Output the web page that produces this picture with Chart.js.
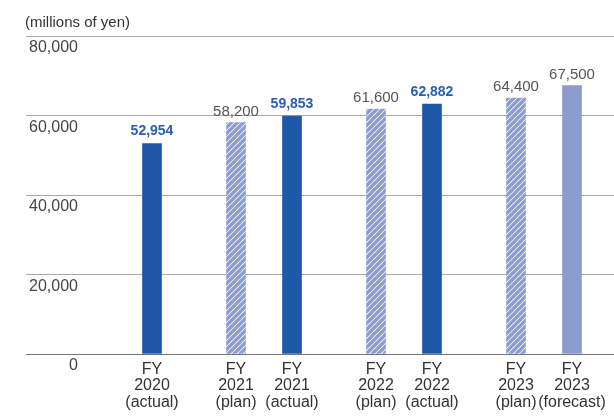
<!DOCTYPE html>
<html>
<head>
<meta charset="utf-8">
<script src="https://cdn.jsdelivr.net/npm/chart.js@4"></script>
<style>
  html, body { margin: 0; padding: 0; background: #fff; }
  #wrap { position: relative; width: 614px; height: 417px; }
</style>
</head>
<body>
<div id="wrap"><canvas id="ch-sales"></canvas></div>
<script>
// data
const categories = [
  ['FY', '2020', '(actual)'],
  ['FY', '2021', '(plan)'],
  ['FY', '2021', '(actual)'],
  ['FY', '2022', '(plan)'],
  ['FY', '2022', '(actual)'],
  ['FY', '2023', '(plan)'],
  ['FY', '2023', '(forecast)']
];
const values = [52954, 58200, 59853, 61600, 62882, 64400, 67500];
const kinds = ['actual', 'plan', 'actual', 'plan', 'actual', 'plan', 'forecast'];
const yTicks = [0, 20000, 40000, 60000, 80000];
const unitLabel = '(millions of yen)';

const FONT = "'Liberation Sans', Arial, sans-serif";
const fmt = v => v.toLocaleString('en-US');

// hatch pattern for the plan bars
function hatch() {
  const n = 6;
  const c = document.createElement('canvas');
  c.width = n; c.height = n;
  const g = c.getContext('2d');
  g.fillStyle = '#ffffff';
  g.fillRect(0, 0, n, n);
  g.strokeStyle = '#8c9dd5';
  g.lineWidth = 3.4;
  g.beginPath();
  g.moveTo(-n / 2, n / 2); g.lineTo(n / 2, -n / 2);
  g.moveTo(-n / 2, n * 1.5); g.lineTo(n * 1.5, -n / 2);
  g.moveTo(n / 2, n * 1.5); g.lineTo(n * 1.5, n / 2);
  g.stroke();
  return g.createPattern(c, 'repeat');
}
const fills = { actual: '#1f58a8', plan: hatch(), forecast: '#8c9bcd' };

// spread the bars over slots: wide gap between years, narrow inside a year
const labels = [], data = [], colors = [], src = [];
function blank(n) { for (let i = 0; i < n; i++) { labels.push(''); data.push(null); colors.push('transparent'); src.push(-1); } }
blank(4);
categories.forEach((cat, i) => {
  if (i > 0) blank(cat[1] === categories[i - 1][1] ? 1 : 2);
  labels.push(cat); data.push(values[i]); colors.push(fills[kinds[i]]); src.push(i);
});
blank(1);

const decorations = {
  id: 'decorations',
  afterDatasetsDraw(chart) {
    const ctx = chart.ctx;
    const y = chart.scales.y;
    ctx.save();
    // unit label
    ctx.font = '15px ' + FONT;
    ctx.fillStyle = '#333';
    ctx.textAlign = 'left';
    ctx.textBaseline = 'middle';
    ctx.fillText(unitLabel, 25, 23);
    // y tick labels sit under their grid line
    ctx.font = '16px ' + FONT;
    ctx.fillStyle = '#444';
    ctx.textAlign = 'right';
    yTicks.forEach(t => ctx.fillText(fmt(t), 78, y.getPixelForValue(t) + 12));
    // value labels above bars
    const meta = chart.getDatasetMeta(0);
    meta.data.forEach((bar, j) => {
      const i = src[j];
      if (i < 0) return;
      const strong = kinds[i] === 'actual';
      ctx.font = (strong ? 'bold 14px ' : '15px ') + FONT;
      ctx.fillStyle = strong ? '#2860b4' : '#555';
      ctx.textAlign = 'center';
      ctx.fillText(fmt(values[i]), bar.x, bar.y - (strong ? 12 : 11));
    });
    ctx.restore();
  }
};

new Chart(document.getElementById('ch-sales'), {
  type: 'bar',
  data: {
    labels,
    datasets: [{ data, backgroundColor: colors, barThickness: 19, borderWidth: 0 }]
  },
  options: {
    responsive: true,
    maintainAspectRatio: false,
    animation: false,
    layout: { padding: { top: 36, left: 26, right: 0, bottom: 0 } },
    plugins: { legend: { display: false }, tooltip: { enabled: false } },
    scales: {
      x: {
        grid: { display: false },
        border: { display: false },
        afterFit: s => { s.height = 63; },
        ticks: {
          autoSkip: false, maxRotation: 0, minRotation: 0, padding: -1,
          color: '#333', font: { family: FONT, size: 16, lineHeight: 1.04 }
        }
      },
      y: {
        min: 0, max: 80000,
        afterBuildTicks: s => { s.ticks = yTicks.map(v => ({ value: v })); },
        ticks: { display: false },
        border: { display: false },
        grid: {
          color: c => c.tick.value === 0 ? '#777' : '#aaa',
          lineWidth: 1,
          drawTicks: false
        }
      }
    }
  },
  plugins: [decorations]
});
</script>
</body>
</html>
